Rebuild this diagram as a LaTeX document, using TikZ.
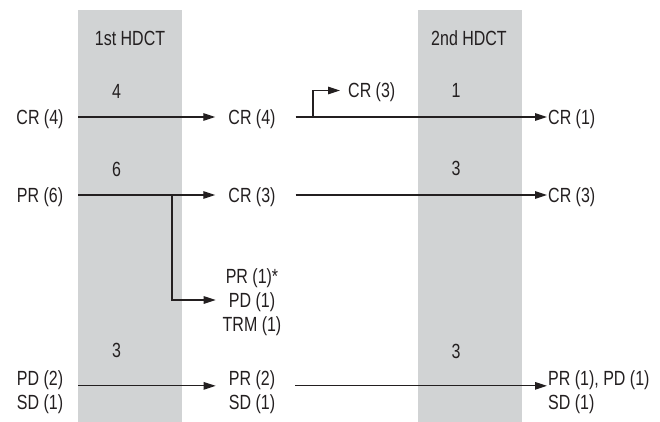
\documentclass[tikz,border=0pt]{standalone}
\usepackage{fontspec}
\setmainfont[FakeStretch=0.78]{Liberation Sans}
\usetikzlibrary{arrows.meta}
\definecolor{ink}{HTML}{231F20}
\definecolor{bandgray}{HTML}{D1D3D4}
\begin{document}
\begin{tikzpicture}[x=1pt,y=-1pt,
  colbox/.style={fill=bandgray, draw=none, inner sep=0pt, outer sep=0pt,
    minimum width=104pt, minimum height=412pt, anchor=north west},
  lbl/.style={inner sep=0pt, text=ink, font=\fontsize{20.5}{24}\selectfont,
    text height=14.7pt, text depth=0pt},
  arr/.style={draw=ink, line width=1.25pt, -{Triangle[length=12pt,width=7.5pt]}},
  gapin/.style={shorten >=13pt},
  gapout/.style={shorten <=20pt, shorten >=1pt}]
\useasboundingbox (0,0) rectangle (660,422);
% shaded HDCT bands
\node[colbox] (col1) at (78,10) {};
\node[colbox] (col2) at (418,10) {};
\node[lbl] (t1) at (130,38.5) {1st HDCT};
\node[lbl] (t2) at (469,38.5) {2nd HDCT};
% counts inside the bands
\node[lbl] (n4)  at (116.5,91.5) {4};
\node[lbl] (n6)  at (116.5,169.5) {6};
\node[lbl] (n3a) at (116.5,350.5) {3};
\node[lbl] (n1)  at (456,90.5) {1};
\node[lbl] (n3b) at (456,168.5) {3};
\node[lbl] (n3c) at (456,351) {3};
% left column
\node[lbl] (cr4l) at (40,117) {CR (4)};
\node[lbl] (pr6l) at (40,195) {PR (6)};
\node[lbl] (pd2l) at (40,378.5) {PD (2)};
\node[lbl] (sd1l) at (40,402.5) {SD (1)};
% middle column
\node[lbl] (cr4m) at (252,117) {CR (4)};
\node[lbl] (cr3m) at (252,195) {CR (3)};
\node[lbl] (pr1m) at (252,276) {PR (1)*};
\node[lbl] (pd1m) at (252,300) {PD (1)};
\node[lbl] (trmm) at (252,324) {TRM (1)};
\node[lbl] (pr2m) at (252,378.5) {PR (2)};
\node[lbl] (sd1m) at (252,402.5) {SD (1)};
\node[lbl, anchor=west] (cr3t) at (348,90.5) {CR (3)};
% right column
\node[lbl, anchor=west] (cr1r) at (548,117) {CR (1)};
\node[lbl, anchor=west] (cr3r) at (548,195) {CR (3)};
\node[lbl, anchor=west] (prpd) at (548,378.5) {PR (1), PD (1)};
\node[lbl, anchor=west] (sd1r) at (548,402.5) {SD (1)};
% branch points
\coordinate (br1) at (313,117);
\coordinate (br2) at (172,195);
% connectors
\draw[arr, gapin] (col1.west |- cr4l) -- (cr4m.west);
\draw[arr, gapout] (cr4m.east) -- (cr1r.west);
\draw[arr, shorten >=8pt] (br1) |- (cr3t.west);
\draw[arr, gapin] (col1.west |- pr6l) -- (cr3m.west);
\draw[arr, gapout] (cr3m.east) -- (cr3r.west);
\draw[arr, gapin] (br2) |- (pd1m.west);
\draw[arr, gapin] (col1.west |- pr2m.base) -- (pr2m.base west);
\draw[arr, gapout] (pr2m.base east) -- (prpd.base west);
\end{tikzpicture}
\end{document}
